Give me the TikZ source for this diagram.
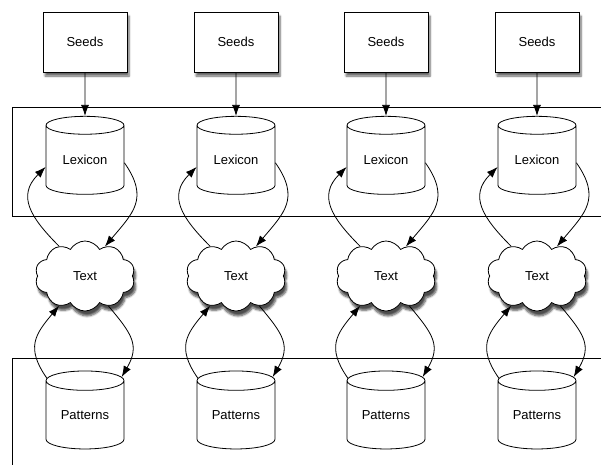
\documentclass[tikz,border=0pt]{standalone}
\usepackage{fontspec}
\setmainfont{Liberation Sans}
\usetikzlibrary{shapes.geometric,shapes.symbols,shadows.blur,arrows.meta}

\begin{document}
\begin{tikzpicture}[x=1pt,y=1pt,line width=0.8pt,>={Latex[length=11pt,width=8pt]},
	every node/.style={font=\fontsize{13}{15}\selectfont},
	seedbox/.style={draw,fill=white,minimum width=84pt,minimum height=60pt,
		blur shadow={shadow xshift=2pt,shadow yshift=-4pt,shadow blur steps=6,shadow opacity=60}},
	store/.style={cylinder,shape border rotate=90,shape aspect=0.4,draw,fill=white,
		minimum width=78pt,minimum height=78pt,inner sep=0pt},
	textcloud/.style={cloud,cloud puffs=10,cloud puff arc=120,aspect=1.5,draw,fill=white,
		minimum width=100pt,minimum height=70pt,
		blur shadow={shadow xshift=2pt,shadow yshift=-5pt,shadow blur steps=6,shadow opacity=70}},
	link/.style={->,looseness=1.3}]
	\useasboundingbox (0,0) rectangle (601,-464);
	% frames around lexica and patterns
	\draw (620,-107) -- (12,-107) -- (12,-216) -- (620,-216);
	\draw (620,-358) -- (12,-358) -- (12,-480);
	% first column
	\node[seedbox] (s1) at (85,-42) {Seeds};
	\node[store] (l1) at (85,-160) {Lexicon};
	\node[textcloud] (t1) at (85,-276) {Text};
	\node[store] (p1) at (85,-415) {Patterns};
	% second column
	\node[seedbox] (s2) at (236,-42) {Seeds};
	\node[store] (l2) at (236,-160) {Lexicon};
	\node[textcloud] (t2) at (236,-276) {Text};
	\node[store] (p2) at (236,-415) {Patterns};
	% third column
	\node[seedbox] (s3) at (386,-42) {Seeds};
	\node[store] (l3) at (386,-160) {Lexicon};
	\node[textcloud] (t3) at (386,-276) {Text};
	\node[store] (p3) at (386,-415) {Patterns};
	% fourth column
	\node[seedbox] (s4) at (537,-42) {Seeds};
	\node[store] (l4) at (537,-160) {Lexicon};
	\node[textcloud] (t4) at (537,-276) {Text};
	\node[store] (p4) at (537,-415) {Patterns};
	% arrows
	\draw[->] (s1.south) -- (l1.north);
	\draw[link] (t1.131) to[out=135,in=225] (l1.190);
	\draw[link] (l1.356) to[out=-55,in=50] (t1.56);
	\draw[link] (p1.136) to[out=125,in=230] (t1.229);
	\draw[link] (t1.308) to[out=-50,in=60] (p1.46);
	\draw[->] (s2.south) -- (l2.north);
	\draw[link] (t2.131) to[out=135,in=225] (l2.190);
	\draw[link] (l2.356) to[out=-55,in=50] (t2.56);
	\draw[link] (p2.136) to[out=125,in=230] (t2.229);
	\draw[link] (t2.308) to[out=-50,in=60] (p2.46);
	\draw[->] (s3.south) -- (l3.north);
	\draw[link] (t3.131) to[out=135,in=225] (l3.190);
	\draw[link] (l3.356) to[out=-55,in=50] (t3.56);
	\draw[link] (p3.136) to[out=125,in=230] (t3.229);
	\draw[link] (t3.308) to[out=-50,in=60] (p3.46);
	\draw[->] (s4.south) -- (l4.north);
	\draw[link] (t4.131) to[out=135,in=225] (l4.190);
	\draw[link] (l4.356) to[out=-55,in=50] (t4.56);
	\draw[link] (p4.136) to[out=125,in=230] (t4.229);
	\draw[link] (t4.308) to[out=-50,in=60] (p4.46);
\end{tikzpicture}
\end{document}
